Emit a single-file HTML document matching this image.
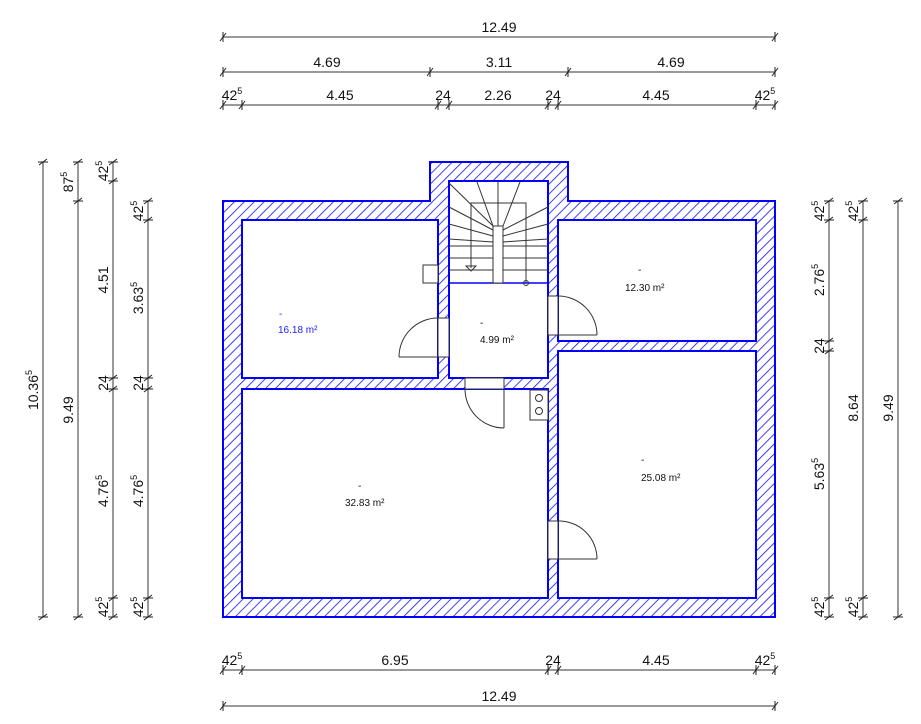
<!DOCTYPE html>
<html><head><meta charset="utf-8"><style>
html,body{margin:0;padding:0;background:#fff;}
svg{display:block;}
text{font-family:"Liberation Sans",sans-serif;}
</style></head><body>
<svg width="921" height="724" viewBox="0 0 921 724" xmlns="http://www.w3.org/2000/svg">
<defs>
<pattern id="h" patternUnits="userSpaceOnUse" width="7" height="7" patternTransform="rotate(45)">
<rect width="7" height="7" fill="#fff"/>
<line x1="0" y1="0" x2="0" y2="7" stroke="#1010ff" stroke-width="1.6"/>
</pattern>
<g id="th" stroke="#222" stroke-width="1"><line x1="0" y1="-5" x2="0" y2="5"/><line x1="-3" y1="4" x2="3" y2="-4"/></g>
<g id="tv" stroke="#222" stroke-width="1"><line x1="-5" y1="0" x2="5" y2="0"/><line x1="-4" y1="3" x2="4" y2="-3"/></g>
</defs>

<path fill="url(#h)" fill-rule="evenodd" stroke="#0000ff" stroke-width="2"
d="M223,201 H430 V162 H568 V201 H775 V617 H223 Z
M242,220 H438 V378 H242 Z
M449,181 H548 V378 H449 Z
M242,389 H548 V598 H242 Z
M558,220 H756 V341 H558 Z
M558,351 H756 V598 H558 Z"/>
<line x1="449" y1="283" x2="548" y2="283" stroke="#0000ff" stroke-width="1.5"/>

<g stroke="#333" stroke-width="1" fill="none">
<rect x="493" y="226" width="10" height="57" fill="#fff"/>
<polyline points="471,268 471,203 526,203 526,283"/>
<line x1="449" y1="246" x2="493" y2="246"/><line x1="503" y1="246" x2="548" y2="246"/>
<line x1="449" y1="258" x2="493" y2="258"/><line x1="503" y1="258" x2="548" y2="258"/>
<line x1="449" y1="270" x2="493" y2="270"/><line x1="503" y1="270" x2="548" y2="270"/>
<line x1="493" y1="226" x2="449" y2="183"/>
<line x1="493" y1="226" x2="477" y2="182"/>
<line x1="498" y1="226" x2="498" y2="182"/>
<line x1="503" y1="226" x2="520" y2="182"/>
<line x1="503" y1="230" x2="548" y2="207"/>
<line x1="503" y1="236" x2="548" y2="224"/>
<line x1="503" y1="242" x2="548" y2="239"/>
<line x1="493" y1="230" x2="449" y2="207"/>
<line x1="493" y1="236" x2="449" y2="224"/>
<line x1="493" y1="242" x2="449" y2="239"/>
<polygon points="466,266 476,266 471,271"/>
<circle cx="526" cy="283" r="2.5"/>
<rect x="423" y="265" width="15" height="18" fill="#fff"/>
<rect x="530" y="390" width="18" height="30" fill="#fff"/>
<circle cx="539" cy="398" r="3.5"/><circle cx="539" cy="411" r="3.5"/>
</g>

<g stroke="#333" stroke-width="1" fill="none">
<rect x="438" y="318" width="11" height="39" fill="#fff"/>
<line x1="399" y1="357" x2="438" y2="357"/><path d="M399,357 A39,39 0 0 1 438,318"/>
<rect x="548" y="296" width="10" height="39" fill="#fff"/>
<line x1="558" y1="335" x2="597" y2="335"/><path d="M558,296 A39,39 0 0 1 597,335"/>
<rect x="465" y="378" width="39" height="11" fill="#fff"/>
<line x1="504" y1="389" x2="504" y2="428"/><path d="M465,389 A39,39 0 0 0 504,428"/>
<rect x="548" y="521" width="10" height="38" fill="#fff"/>
<line x1="558" y1="559" x2="597" y2="559"/><path d="M558,521 A38,38 0 0 1 597,559"/>
</g>

<g font-size="10" fill="#111">
<text x="278" y="333" fill="#2020ff">16.18 m²</text><text x="279" y="317" fill="#2020ff">-</text>
<text x="480" y="343">4.99 m²</text><text x="480" y="326">-</text>
<text x="625" y="291">12.30 m²</text><text x="638" y="273">-</text>
<text x="345" y="506">32.83 m²</text><text x="358" y="489">-</text>
<text x="641" y="481">25.08 m²</text><text x="641" y="463">-</text>
</g>

<g stroke="#333" stroke-width="1">
<line x1="223" y1="37" x2="775" y2="37"/>
<line x1="223" y1="72" x2="775" y2="72"/>
<line x1="223" y1="105" x2="775" y2="105"/>
<line x1="223" y1="670" x2="775" y2="670"/>
<line x1="223" y1="706" x2="775" y2="706"/>
<line x1="43" y1="162" x2="43" y2="617"/>
<line x1="78" y1="162" x2="78" y2="617"/>
<line x1="113" y1="162" x2="113" y2="617"/>
<line x1="148" y1="201" x2="148" y2="617"/>
<line x1="829" y1="201" x2="829" y2="617"/>
<line x1="863" y1="201" x2="863" y2="617"/>
<line x1="898" y1="201" x2="898" y2="617"/>
</g>
<g>
<use href="#th" x="223" y="37"/><use href="#th" x="775" y="37"/>
<use href="#th" x="223" y="72"/><use href="#th" x="430" y="72"/><use href="#th" x="568" y="72"/><use href="#th" x="775" y="72"/>
<use href="#th" x="223" y="105"/><use href="#th" x="242" y="105"/><use href="#th" x="438" y="105"/><use href="#th" x="449" y="105"/><use href="#th" x="548" y="105"/><use href="#th" x="558" y="105"/><use href="#th" x="756" y="105"/><use href="#th" x="775" y="105"/>
<use href="#th" x="223" y="670"/><use href="#th" x="242" y="670"/><use href="#th" x="548" y="670"/><use href="#th" x="558" y="670"/><use href="#th" x="756" y="670"/><use href="#th" x="775" y="670"/>
<use href="#th" x="223" y="706"/><use href="#th" x="775" y="706"/>
<use href="#tv" x="43" y="162"/><use href="#tv" x="43" y="617"/>
<use href="#tv" x="78" y="162"/><use href="#tv" x="78" y="201"/><use href="#tv" x="78" y="617"/>
<use href="#tv" x="113" y="162"/><use href="#tv" x="113" y="181"/><use href="#tv" x="113" y="378"/><use href="#tv" x="113" y="389"/><use href="#tv" x="113" y="598"/><use href="#tv" x="113" y="617"/>
<use href="#tv" x="148" y="201"/><use href="#tv" x="148" y="220"/><use href="#tv" x="148" y="378"/><use href="#tv" x="148" y="389"/><use href="#tv" x="148" y="598"/><use href="#tv" x="148" y="617"/>
<use href="#tv" x="829" y="201"/><use href="#tv" x="829" y="220"/><use href="#tv" x="829" y="341"/><use href="#tv" x="829" y="351"/><use href="#tv" x="829" y="598"/><use href="#tv" x="829" y="617"/>
<use href="#tv" x="863" y="201"/><use href="#tv" x="863" y="220"/><use href="#tv" x="863" y="598"/><use href="#tv" x="863" y="617"/>
<use href="#tv" x="898" y="201"/><use href="#tv" x="898" y="617"/>
</g>

<g font-size="14" fill="#111" text-anchor="middle">
<text x="499" y="32">12.49</text>
<text x="327" y="67">4.69</text><text x="499" y="67">3.11</text><text x="671" y="67">4.69</text>
<text x="232" y="100">42<tspan font-size="9" dy="-6">5</tspan></text>
<text x="340" y="100">4.45</text><text x="443" y="100">24</text><text x="498" y="100">2.26</text><text x="553" y="100">24</text><text x="656" y="100">4.45</text>
<text x="765" y="100">42<tspan font-size="9" dy="-6">5</tspan></text>
<text x="232" y="665">42<tspan font-size="9" dy="-6">5</tspan></text>
<text x="395" y="665">6.95</text><text x="553" y="665">24</text><text x="656" y="665">4.45</text>
<text x="765" y="665">42<tspan font-size="9" dy="-6">5</tspan></text>
<text x="499" y="701">12.49</text>

<text transform="translate(38,390) rotate(-90)">10.36<tspan font-size="9" dy="-6">5</tspan></text>
<text transform="translate(73,410) rotate(-90)">9.49</text>
<text transform="translate(73,182) rotate(-90)">87<tspan font-size="9" dy="-6">5</tspan></text>
<text transform="translate(108,171) rotate(-90)">42<tspan font-size="9" dy="-6">5</tspan></text>
<text transform="translate(108,280) rotate(-90)">4.51</text>
<text transform="translate(108,383) rotate(-90)">24</text>
<text transform="translate(108,491) rotate(-90)">4.76<tspan font-size="9" dy="-6">5</tspan></text>
<text transform="translate(108,607) rotate(-90)">42<tspan font-size="9" dy="-6">5</tspan></text>
<text transform="translate(143,211) rotate(-90)">42<tspan font-size="9" dy="-6">5</tspan></text>
<text transform="translate(143,298) rotate(-90)">3.63<tspan font-size="9" dy="-6">5</tspan></text>
<text transform="translate(143,383) rotate(-90)">24</text>
<text transform="translate(143,491) rotate(-90)">4.76<tspan font-size="9" dy="-6">5</tspan></text>
<text transform="translate(143,607) rotate(-90)">42<tspan font-size="9" dy="-6">5</tspan></text>

<text transform="translate(824,211) rotate(-90)">42<tspan font-size="9" dy="-6">5</tspan></text>
<text transform="translate(824,280) rotate(-90)">2.76<tspan font-size="9" dy="-6">5</tspan></text>
<text transform="translate(824,346) rotate(-90)">24</text>
<text transform="translate(824,474) rotate(-90)">5.63<tspan font-size="9" dy="-6">5</tspan></text>
<text transform="translate(824,607) rotate(-90)">42<tspan font-size="9" dy="-6">5</tspan></text>
<text transform="translate(858,211) rotate(-90)">42<tspan font-size="9" dy="-6">5</tspan></text>
<text transform="translate(858,408) rotate(-90)">8.64</text>
<text transform="translate(858,607) rotate(-90)">42<tspan font-size="9" dy="-6">5</tspan></text>
<text transform="translate(893,408) rotate(-90)">9.49</text>
</g>
</svg>
</body></html>
